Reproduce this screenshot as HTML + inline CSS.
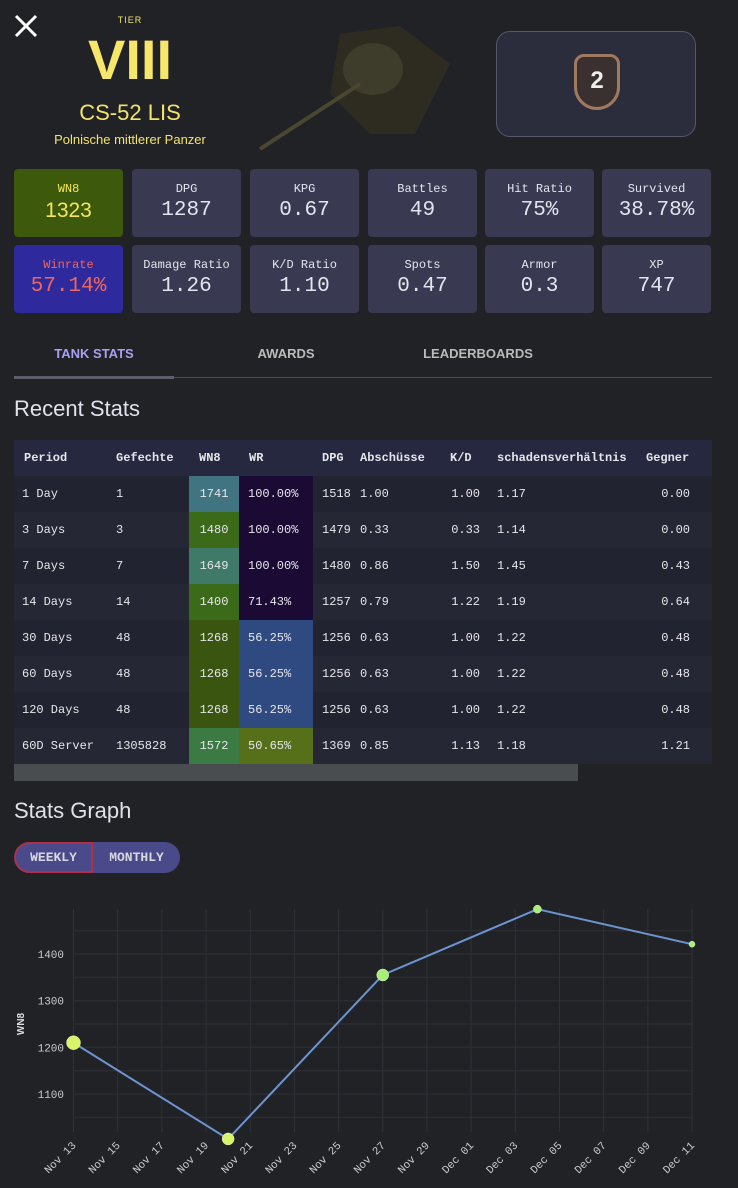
<!DOCTYPE html>
<html><head><meta charset="utf-8">
<style>
*{box-sizing:border-box;margin:0;padding:0}
body{width:738px;height:1188px;background:#212226;font-family:"Liberation Sans",sans-serif;color:#ddd;position:relative;overflow:hidden}
.abs{position:absolute}
.card{position:absolute;width:109px;height:68px;background:#393a52;border-radius:4px;text-align:center;color:#e4e4ee}
.card .l{font-family:"Liberation Mono",monospace;font-size:12px;margin-top:13px}
.card .v{font-family:"Liberation Mono",monospace;font-size:21px;margin-top:3px}
table{border-collapse:collapse;table-layout:fixed;font-family:"Liberation Mono",monospace;font-size:12px;color:#e6e6ea}
td,th{height:36px;padding:0;white-space:nowrap;text-align:left;font-weight:normal;overflow:hidden}
th{font-weight:bold}
</style></head><body>
<div class="abs" style="left:12px;top:12px;width:28px;height:28px">
<svg width="28" height="28"><path d="M4 4L24 24M24 4L4 24" stroke="#fff" stroke-width="3"/></svg></div>
<div class="abs" style="left:110px;top:15px;width:40px;text-align:center;font-size:9px;letter-spacing:1px;color:#f3e36b">TIER</div>
<div class="abs" style="left:70px;top:30px;width:120px;text-align:center;font-size:56px;font-weight:bold;color:#f6e66a;line-height:60px">VIII</div>
<div class="abs" style="left:40px;top:100px;width:180px;text-align:center;font-size:22px;color:#f3e36b">CS-52 LIS</div>
<div class="abs" style="left:20px;top:132px;width:220px;text-align:center;font-size:13px;color:#f3e36b">Polnische mittlerer Panzer</div>
<div class="abs" style="left:255px;top:14px;width:200px;height:140px">
<svg width="200" height="140"><polygon points="85,20 145,12 195,50 160,120 115,120 75,80" fill="#2e2c20"/><ellipse cx="118" cy="55" rx="30" ry="26" fill="#3e3c2a"/><line x1="105" y1="70" x2="5" y2="135" stroke="#4a4630" stroke-width="4"/></svg></div>
<div class="abs" style="left:496px;top:31px;width:200px;height:106px;border:1px solid #55566a;border-radius:14px;background:#2c2d3c">
<div style="position:absolute;left:77px;top:22px;width:46px;height:56px;border-radius:10px 10px 23px 23px;background:#3a3030;border:3px solid #a07a60;color:#eee;font-size:24px;font-weight:bold;text-align:center;line-height:48px">2</div></div>

<div class="card" style="left:14px;top:169px;background:#3d5a0c;color:#f5e65a"><div class="l">WN8</div><div class="v" style="font-family:'Liberation Sans',sans-serif">1323</div></div>
<div class="card" style="left:132px;top:169px"><div class="l">DPG</div><div class="v">1287</div></div>
<div class="card" style="left:250px;top:169px"><div class="l">KPG</div><div class="v">0.67</div></div>
<div class="card" style="left:368px;top:169px"><div class="l">Battles</div><div class="v">49</div></div>
<div class="card" style="left:485px;top:169px"><div class="l">Hit Ratio</div><div class="v">75%</div></div>
<div class="card" style="left:602px;top:169px"><div class="l">Survived</div><div class="v">38.78%</div></div>
<div class="card" style="left:14px;top:245px;background:#2e2a9e;color:#f0675a"><div class="l">Winrate</div><div class="v">57.14%</div></div>
<div class="card" style="left:132px;top:245px"><div class="l">Damage Ratio</div><div class="v">1.26</div></div>
<div class="card" style="left:250px;top:245px"><div class="l">K/D Ratio</div><div class="v">1.10</div></div>
<div class="card" style="left:368px;top:245px"><div class="l">Spots</div><div class="v">0.47</div></div>
<div class="card" style="left:485px;top:245px"><div class="l">Armor</div><div class="v">0.3</div></div>
<div class="card" style="left:602px;top:245px"><div class="l">XP</div><div class="v">747</div></div>

<div class="abs" style="left:14px;top:346px;width:160px;text-align:center;font-size:13px;font-weight:bold;color:#a8a0f0">TANK STATS</div>
<div class="abs" style="left:206px;top:346px;width:160px;text-align:center;font-size:13px;font-weight:bold;color:#bbb">AWARDS</div>
<div class="abs" style="left:398px;top:346px;width:160px;text-align:center;font-size:13px;font-weight:bold;color:#bbb">LEADERBOARDS</div>
<div class="abs" style="left:14px;top:377px;width:698px;height:1px;background:#4a4b55"></div>
<div class="abs" style="left:14px;top:376px;width:160px;height:3px;background:#5c5d68"></div>

<div class="abs" style="left:14px;top:396px;font-size:22px;color:#e0e2ea">Recent Stats</div>
<div class="abs" style="left:14px;top:440px;width:698px;overflow:hidden">
<table style="width:698px">
<colgroup><col style="width:102px"><col style="width:73px"><col style="width:50px"><col style="width:74px"><col style="width:47px"><col style="width:89px"><col style="width:48px"><col style="width:140px"><col style="width:75px"></colgroup>
<tr style="background:#262840"><th style="padding-left:10px">Period</th><th>Gefechte</th><th style="padding-left:10px">WN8</th><th style="padding-left:10px">WR</th><th style="padding-left:9px">DPG</th><th>Abschüsse</th><th style="padding-left:1px">K/D</th><th>schadensverhältnis</th><th style="padding-left:9px">Gegner</th></tr>
<tbody id="tb"></tbody></table></div>
<div class="abs" style="left:14px;top:764px;width:564px;height:17px;background:#4a4d50"></div>

<div class="abs" style="left:14px;top:798px;font-size:22px;color:#e0e2ea">Stats Graph</div>
<div class="abs" style="left:14px;top:842px;width:166px;height:31px;border-radius:16px;background:#4a4a8a;overflow:hidden;font-family:'Liberation Mono',monospace;font-weight:bold;font-size:13px;color:#d8d8e0">
<div style="position:absolute;left:0;top:0;width:79px;height:31px;border:2px solid #b03048;border-radius:16px 0 0 16px;text-align:center;line-height:27px">WEEKLY</div>
<div style="position:absolute;left:79px;top:0;width:87px;height:31px;text-align:center;line-height:31px">MONTHLY</div></div>

<svg id="chart" class="abs" style="left:0;top:880px" width="738" height="308"></svg>

<script>
const periods=["1 Day","3 Days","7 Days","14 Days","30 Days","60 Days","120 Days","60D Server"];
const battles=["1","3","7","14","48","48","48","1305828"];
const wn8s=["1741","1480","1649","1400","1268","1268","1268","1572"];
const wrs=["100.00%","100.00%","100.00%","71.43%","56.25%","56.25%","56.25%","50.65%"];
const dpgs=["1518","1479","1480","1257","1256","1256","1256","1369"];
const kills=["1.00","0.33","0.86","0.79","0.63","0.63","0.63","0.85"];
const kds=["1.00","0.33","1.50","1.22","1.00","1.00","1.00","1.13"];
const dmgr=["1.17","1.14","1.45","1.19","1.22","1.22","1.22","1.18"];
const enemy=["0.00","0.00","0.43","0.64","0.48","0.48","0.48","1.21"];
function wnColor(v){v=+v;if(v>=1700)return"#3f7480";if(v>=1600)return"#3f7a68";if(v>=1550)return"#3b7a42";if(v>=1350)return"#3b6a18";return"#3a5510";}
function wrColor(s){const v=parseFloat(s);if(v>=60)return"#1a0a34";if(v>=52)return"#2f4a80";return"#56701a";}
const tb=document.getElementById('tb');
periods.forEach((p,i)=>{
 const tr=document.createElement('tr');
 
 
 tr.style.background=i%2?"#262735":"#222331";
 tr.innerHTML=`<td style="padding-left:8px">${p}</td><td>${battles[i]}</td><td style="background:${wnColor(wn8s[i])};text-align:center">${wn8s[i]}</td><td style="background:${wrColor(wrs[i])};padding-left:9px">${wrs[i]}</td><td style="padding-left:9px">${dpgs[i]}</td><td>${kills[i]}</td><td style="text-align:right;padding-right:17px">${kds[i]}</td><td>${dmgr[i]}</td><td style="text-align:right;padding-right:22px">${enemy[i]}</td>`;
 tb.appendChild(tr);
});
// chart data
const dates=["2023-11-13","2023-11-20","2023-11-27","2023-12-04","2023-12-11"];
const wn8Series=[1210,1004,1355,1496,1421];
const yTicks=[1100,1200,1300,1400];
const xTickLabels=["Nov 13","Nov 15","Nov 17","Nov 19","Nov 21","Nov 23","Nov 25","Nov 27","Nov 29","Dec 01","Dec 03","Dec 05","Dec 07","Dec 09","Dec 11"];
const pointSizes=[7,6,6,4,3];
const svg=document.getElementById('chart');const NS="http://www.w3.org/2000/svg";
const t0=Date.UTC(2023,10,13);
const dayPx=(692-73.5)/28;
function x(dstr){const d=new Date(dstr+"T00:00:00Z");return 73.5+(d-t0)/864e5*dayPx;}
function y(v){return 74-(v-1400)*0.467;}
function el(t,a){const e=document.createElementNS(NS,t);for(const k in a)e.setAttribute(k,a[k]);svg.appendChild(e);return e;}
for(let v=1050;v<=1450;v+=50){const g=el('line',{x1:73.5,x2:692,y1:y(v),y2:y(v),stroke:'#2a2c31','stroke-width':v%100?1.5:1.5});}
xTickLabels.forEach((l,i)=>{const xx=73.5+i*2*dayPx;
 const g=el('line',{x1:xx,x2:xx,y1:29,y2:252,stroke:'#303238','stroke-width':1});
 
 const t=el('text',{x:xx+3,y:266,'text-anchor':'end',transform:`rotate(-45 ${xx+3} 266)`,fill:'#ccc','font-size':11,'font-family':'Liberation Mono, monospace'});t.textContent=l;
 });
yTicks.forEach(v=>{const t=el('text',{x:64,y:y(v)+4,'text-anchor':'end',fill:'#ccc','font-size':11,'font-family':'Liberation Mono, monospace'});t.textContent=v;
 });
const yt=el('text',{x:24,y:144,'text-anchor':'middle',transform:'rotate(-90 24 144)',fill:'#ddd','font-size':10,'font-weight':'bold','font-family':'Liberation Sans, sans-serif'});yt.textContent='WN8';

const pl=el('polyline',{points:dates.map((d,i)=>x(d)+','+y(wn8Series[i])).join(' '),fill:'none',stroke:'#6c94d0','stroke-width':2});

dates.forEach((d,i)=>{const c=el('circle',{cx:x(d),cy:y(wn8Series[i]),r:pointSizes[i],fill:i<2?'#d8f56a':'#a8ef7a',stroke:'#e8f0c0','stroke-width':0.5});
 });
</script>
</body></html>
